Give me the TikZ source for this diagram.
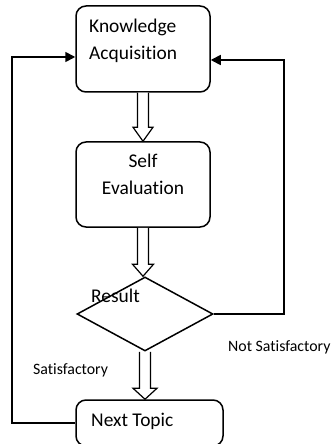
\documentclass[tikz,border=0pt]{standalone}
\usepackage{fontspec}
\setmainfont{Carlito}[Ligatures={NoCommon,NoContextual,NoRare}]
\usetikzlibrary{shapes.geometric,arrows.meta,calc}
\newcommand\hollowdown[4]{%
  \draw[hollow] let \p1=(#1), \p2=(#2) in
    (\x1-5.5bp,\y1) -- (\x1-5.5bp,\y2+#3) -- (\x1-#4,\y2+#3) -- (\x1,\y2)
    -- (\x1+#4,\y2+#3) -- (\x1+5.5bp,\y2+#3) -- (\x1+5.5bp,\y1);}
\begin{document}
\begin{tikzpicture}[x=1bp,y=-1bp,
  box/.style={draw, line width=1.5bp, rounded corners=10bp, minimum width=134bp, minimum height=86bp, inner sep=0pt},
  decision/.style={draw, diamond, line width=1.5bp, minimum width=136bp, minimum height=74bp, inner sep=0pt},
  hollow/.style={draw, line width=1.2bp, fill=white},
  flow/.style={line width=1.7bp, -{Triangle[length=10bp,width=10bp]}},
  boxtxt/.style={font=\fontsize{19.5}{23}\selectfont, inner sep=0pt},
  lbl/.style={font=\fontsize{15.9}{19}\selectfont, inner sep=0pt}]
\useasboundingbox (0,0) rectangle (330,444);
\node[box] (ka) at (143,49) {};
\node[box, minimum height=85bp] (se) at (143,184.5) {};
\node[decision] (res) at (145,314) {};
\node[box, minimum width=147bp, minimum height=46bp] (nt) at (149.5,423) {};
% text
\node[boxtxt, anchor=base west] (t1) at (89,33) {Knowledge};
\node[boxtxt, anchor=base west] (t2) at (89,60) {Acquisition};
\node[boxtxt, anchor=base] (t3) at (143,168) {Self};
\node[boxtxt, anchor=base] (t4) at (143,195) {Evaluation};
\node[boxtxt, anchor=base west] (t5) at (91,302) {Result};
\node[boxtxt, anchor=base west] (t6) at (91,426) {Next Topic};
\node[lbl, anchor=base west] (l1) at (228,351) {Not Satisfactory};
\node[lbl, anchor=base west] (l2) at (33,374) {Satisfactory};
% hollow arrows
\hollowdown{ka.south}{se.north}{14bp}{10bp}
\hollowdown{se.south}{res.north}{12bp}{10.5bp}
\hollowdown{res.south}{nt.north}{11bp}{12bp}
% feedback lines
\coordinate (kain) at ($(ka.east)+(0,11)$);
\coordinate (rturn) at (284,60);
\draw[flow] (res.east) -| (rturn) -- (kain);
\coordinate (kaL) at ($(ka.west)+(0,8)$);
\coordinate (lturn) at (12,57);
\draw[flow] (nt.west) -| (lturn) -- (kaL);
\end{tikzpicture}
\end{document}
